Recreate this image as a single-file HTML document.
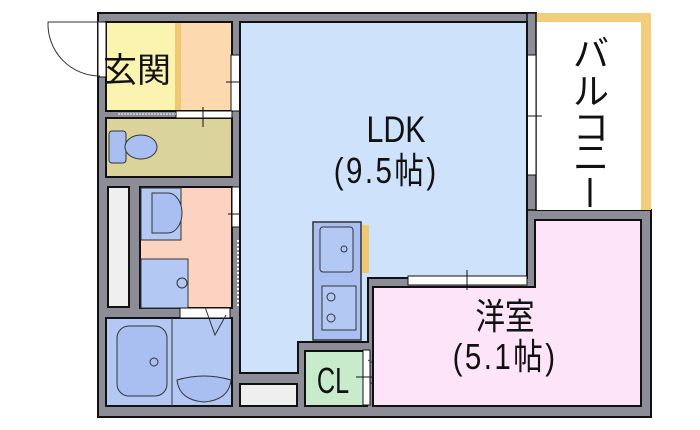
<!DOCTYPE html>
<html><head><meta charset="utf-8"><style>
html,body{margin:0;padding:0;background:#fff;width:700px;height:430px;overflow:hidden}
svg{display:block}
text{font-family:"Liberation Sans","Noto Sans CJK JP",sans-serif;fill:#111}
</style></head><body>
<svg width="700" height="430" viewBox="0 0 700 430" xmlns="http://www.w3.org/2000/svg">
<polygon points="98,13 536,13 536,210 651,210 651,417 98,417" fill="#8d8d98" stroke="#111" stroke-width="2"/>
<rect x="536" y="13" width="115" height="197" fill="#f1cd7c"/>
<rect x="536" y="22" width="105" height="188" fill="#fff"/>
<rect x="527" y="13" width="9" height="197" fill="#8d8d98" stroke="#111" stroke-width="1.5"/>
<rect x="527" y="55" width="9" height="120" fill="#fff" stroke="#111" stroke-width="1"/>
<line x1="520" y1="116" x2="542" y2="116" stroke="#111" stroke-width="1"/>
<rect x="106" y="22" width="126" height="89" fill="#fcd9ae" stroke="#111" stroke-width="2"/>
<rect x="107" y="23" width="68" height="87" fill="#fbf3b0"/>
<rect x="175" y="23" width="6" height="87" fill="#f0c870"/>
<rect x="98" y="22" width="8" height="55" fill="#fff" stroke="#111" stroke-width="1"/>
<path d="M100,22 L48,22 A52,52 0 0 0 100,76" fill="none" stroke="#333" stroke-width="1"/>
<rect x="231" y="55" width="9" height="56" fill="#fff" stroke="#111" stroke-width="1"/>
<path d="M240,56 L289,56 A49,49 0 0 1 240,110" fill="none" stroke="#333" stroke-width="1"/>
<line x1="226" y1="82" x2="246" y2="82" stroke="#111"/>
<rect x="106" y="118" width="126" height="59" fill="#dbd39c" stroke="#111" stroke-width="2"/>
<rect x="176" y="111" width="56" height="7" fill="#fff" stroke="#111" stroke-width="1"/>
<line x1="118" y1="114" x2="176" y2="114" stroke="#fff" stroke-dasharray="2,1"/>
<line x1="203" y1="107" x2="203" y2="127" stroke="#111"/>
<rect x="109" y="131" width="17" height="32" rx="3" fill="#a9bff2" stroke="#333"/>
<ellipse cx="141" cy="147" rx="16" ry="12" fill="#a9bff2" stroke="#333"/>
<rect x="108" y="187" width="21" height="120" fill="#efefef" stroke="#111" stroke-width="2"/>
<rect x="140" y="187" width="92" height="121" fill="#fcd3c0" stroke="#111" stroke-width="2"/>
<rect x="141" y="188" width="40" height="52" fill="#b4c8f4" stroke="#333"/>
<path d="M152,193 h16 a14,20 0 0 1 0,40 h-16 z" fill="#a9bff2" stroke="#333"/>
<rect x="141" y="259" width="47" height="49" fill="#b4c8f4" stroke="#333"/>
<circle cx="182" cy="283" r="5" fill="none" stroke="#333"/>
<rect x="232" y="187" width="8" height="40" fill="#fff" stroke="#111" stroke-width="1"/>
<line x1="228" y1="214" x2="246" y2="214" stroke="#111"/>
<rect x="106" y="318" width="126" height="88" fill="#b4c8f4" stroke="#111" stroke-width="2"/>
<line x1="172" y1="318" x2="172" y2="406" stroke="#333"/>
<rect x="117" y="326" width="50" height="70" rx="12" fill="#a9bff2" stroke="#333"/>
<circle cx="154" cy="362" r="4" fill="none" stroke="#333"/>
<path d="M177,380 q27,-8 54,0 q-2,20 -27,22 q-25,-2 -27,-22z" fill="#a9bff2" stroke="#333"/>
<rect x="180" y="308" width="50" height="10" fill="#fff" stroke="#111" stroke-width="1"/>
<path d="M205,307 L215,335 L226,315" fill="none" stroke="#333"/>
<polygon points="240,22 527,22 527,278 368,278 368,342 298,342 298,373 240,373" fill="#cfe2fb" stroke="#111" stroke-width="2"/>
<line x1="238" y1="240" x2="238" y2="308" stroke="#fff" stroke-width="2" stroke-dasharray="2,2"/>
<rect x="362" y="225" width="7" height="48" fill="#f0c870"/>
<rect x="313" y="222" width="48" height="118" fill="#a9bff2" stroke="#333" stroke-width="1.5"/>
<rect x="320" y="227" width="33" height="45" rx="3" fill="#b4c8f4" stroke="#333"/>
<circle cx="344" cy="249" r="3" fill="none" stroke="#333"/>
<rect x="322" y="286" width="34" height="44" fill="#b4c8f4" stroke="#333"/>
<circle cx="331" cy="297" r="4" fill="none" stroke="#333"/><circle cx="331" cy="318" r="4" fill="none" stroke="#333"/>
<rect x="240" y="384" width="57" height="22" fill="#efefef" stroke="#111" stroke-width="2"/>
<rect x="305" y="351" width="62" height="55" fill="#c8eccb" stroke="#111" stroke-width="2"/>
<rect x="363" y="350" width="7" height="55" fill="#fff" stroke="#111" stroke-width="1"/>
<path d="M368,360 L388,372 L370,384" fill="none" stroke="#333"/>
<line x1="356" y1="377" x2="376" y2="377" stroke="#111"/>
<polygon points="373,287 535,287 535,220 641,220 641,406 373,406" fill="#fde4f8" stroke="#111" stroke-width="2"/>
<rect x="408" y="276" width="119" height="9" fill="#fff" stroke="#111" stroke-width="1"/>
<line x1="467" y1="270" x2="467" y2="290" stroke="#111"/>
<text x="103" y="82" font-size="34">玄関</text>
<g transform="translate(396 0) scale(0.82 1)">
<text x="0" y="142" font-size="37" text-anchor="middle">LDK</text>
<text x="-12" y="183" font-size="36" text-anchor="middle" letter-spacing="3">(9.5帖)</text>
<text x="133" y="329" font-size="36" text-anchor="middle">洋室</text>
<text x="133" y="369" font-size="36" text-anchor="middle" letter-spacing="3">(5.1帖)</text>
</g>
<text x="0" y="393" font-size="36" text-anchor="middle" transform="translate(333 0) scale(0.7 1)">CL</text>
<text x="591" y="66" font-size="36" text-anchor="middle">バ</text>
<text x="591" y="104" font-size="36" text-anchor="middle">ル</text>
<text x="591" y="140" font-size="36" text-anchor="middle">コ</text>
<text x="591" y="170" font-size="36" text-anchor="middle">ニ</text>
<line x1="590" y1="178" x2="590" y2="207" stroke="#111" stroke-width="3"/>
</svg>
</body></html>
